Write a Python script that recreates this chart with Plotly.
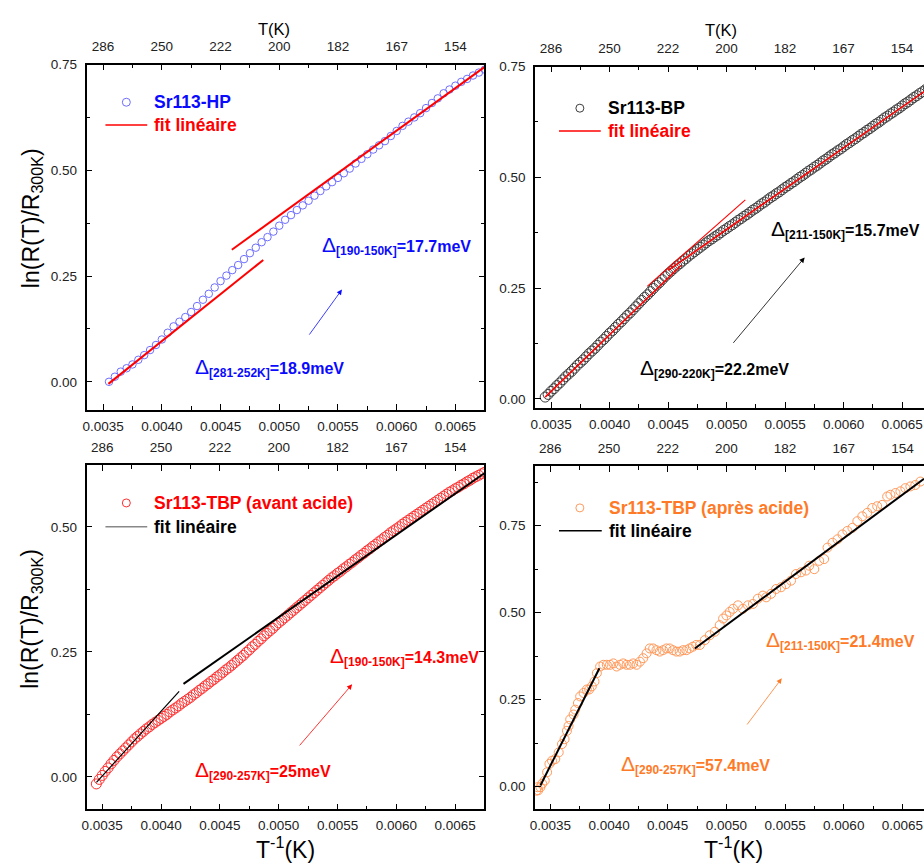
import plotly.graph_objects as go

W, H = 924, 863
FONT = "Liberation Sans, Arial, sans-serif"

# ---------------- data ----------------
# Panel 1 : Sr113-HP
hp_x = [0.00355, 0.00360, 0.00365, 0.00370, 0.00375, 0.00380, 0.00385, 0.00390, 0.00395, 0.00400,
        0.00405, 0.00410, 0.00415, 0.00420, 0.00425, 0.00430, 0.00435, 0.00440, 0.00445, 0.00450,
        0.00455, 0.00460, 0.00465, 0.00470, 0.00475, 0.00480, 0.00485, 0.00490, 0.00495, 0.00500,
        0.00505, 0.00510, 0.00515, 0.00520, 0.00525, 0.00530, 0.00535, 0.00540, 0.00545, 0.00550,
        0.00555, 0.00560, 0.00565, 0.00570, 0.00575, 0.00580, 0.00585, 0.00590, 0.00595, 0.00600,
        0.00605, 0.00610, 0.00615, 0.00620, 0.00625, 0.00630, 0.00635, 0.00640, 0.00645, 0.00650,
        0.00655, 0.00660, 0.00665, 0.00670, 0.00675]
hp_y = [0.000, 0.012, 0.024, 0.032, 0.041, 0.052, 0.063, 0.075, 0.087, 0.100,
        0.116, 0.131, 0.142, 0.153, 0.165, 0.179, 0.194, 0.208, 0.223, 0.238,
        0.251, 0.264, 0.276, 0.290, 0.304, 0.317, 0.330, 0.342, 0.355, 0.369,
        0.383, 0.394, 0.406, 0.417, 0.428, 0.440, 0.451, 0.462, 0.472, 0.482,
        0.493, 0.504, 0.516, 0.527, 0.538, 0.549, 0.559, 0.569, 0.581, 0.593,
        0.605, 0.615, 0.625, 0.635, 0.647, 0.659, 0.670, 0.682, 0.691, 0.700,
        0.709, 0.716, 0.724, 0.731, 0.738]
hp_fit1_x = [0.003545, 0.004864]
hp_fit1_y = [-0.005, 0.288]
hp_fit2_x = [0.004596, 0.006747]
hp_fit2_y = [0.312, 0.744]

# Panel 2 : Sr113-BP  (dense measurement, every 0.000025 K^-1)
bp_x = [0.003450, 0.003475, 0.003500, 0.003525, 0.003550, 0.003575, 0.003600, 0.003625, 0.003650, 0.003675,
        0.003700, 0.003725, 0.003750, 0.003775, 0.003800, 0.003825, 0.003850, 0.003875, 0.003900, 0.003925,
        0.003950, 0.003975, 0.004000, 0.004025, 0.004050, 0.004075, 0.004100, 0.004125, 0.004150, 0.004175,
        0.004200, 0.004225, 0.004250, 0.004275, 0.004300, 0.004325, 0.004350, 0.004375, 0.004400, 0.004425,
        0.004450, 0.004475, 0.004500, 0.004525, 0.004550, 0.004575, 0.004600, 0.004625, 0.004650, 0.004675,
        0.004700, 0.004725, 0.004750, 0.004775, 0.004800, 0.004825, 0.004850, 0.004875, 0.004900, 0.004925,
        0.004950, 0.004975, 0.005000, 0.005025, 0.005050, 0.005075, 0.005100, 0.005125, 0.005150, 0.005175,
        0.005200, 0.005225, 0.005250, 0.005275, 0.005300, 0.005325, 0.005350, 0.005375, 0.005400, 0.005425,
        0.005450, 0.005475, 0.005500, 0.005525, 0.005550, 0.005575, 0.005600, 0.005625, 0.005650, 0.005675,
        0.005700, 0.005725, 0.005750, 0.005775, 0.005800, 0.005825, 0.005850, 0.005875, 0.005900, 0.005925,
        0.005950, 0.005975, 0.006000, 0.006025, 0.006050, 0.006075, 0.006100, 0.006125, 0.006150, 0.006175,
        0.006200, 0.006225, 0.006250, 0.006275, 0.006300, 0.006325, 0.006350, 0.006375, 0.006400, 0.006425,
        0.006450, 0.006475, 0.006500, 0.006525, 0.006550, 0.006575, 0.006600, 0.006625, 0.006650, 0.006675,
        0.006700, 0.006725, 0.006750]
bp_y = [0.004, 0.010, 0.017, 0.023, 0.030, 0.036, 0.043, 0.050, 0.056, 0.062,
        0.069, 0.076, 0.082, 0.088, 0.095, 0.102, 0.108, 0.114, 0.121, 0.128,
        0.134, 0.141, 0.148, 0.154, 0.161, 0.168, 0.174, 0.181, 0.188, 0.194,
        0.201, 0.208, 0.215, 0.222, 0.229, 0.235, 0.242, 0.249, 0.256, 0.262,
        0.269, 0.276, 0.282, 0.288, 0.294, 0.300, 0.305, 0.311, 0.316, 0.322,
        0.327, 0.332, 0.337, 0.342, 0.347, 0.352, 0.357, 0.361, 0.366, 0.370,
        0.375, 0.380, 0.384, 0.389, 0.393, 0.398, 0.403, 0.407, 0.412, 0.416,
        0.421, 0.426, 0.430, 0.435, 0.440, 0.444, 0.449, 0.454, 0.458, 0.463,
        0.467, 0.472, 0.477, 0.481, 0.486, 0.490, 0.495, 0.500, 0.504, 0.509,
        0.514, 0.518, 0.523, 0.527, 0.532, 0.537, 0.541, 0.546, 0.551, 0.555,
        0.560, 0.564, 0.569, 0.574, 0.578, 0.583, 0.587, 0.592, 0.597, 0.601,
        0.606, 0.610, 0.615, 0.620, 0.624, 0.629, 0.634, 0.638, 0.643, 0.647,
        0.652, 0.656, 0.661, 0.666, 0.670, 0.675, 0.680, 0.684, 0.689, 0.693,
        0.698, 0.702, 0.707]
bp_fitA_x = [0.00345, 0.00461]
bp_fitA_y = [0.004, 0.301]
bp_fitB_x = [0.00450, 0.00675]
bp_fitB_y = [0.290, 0.705]
bp_fitC_x = [0.004322, 0.005160]
bp_fitC_y = [0.254, 0.449]

# Panel 3 : Sr113-TBP (avant acide)  (same temperature grid as panel 2)
ta_x = list(bp_x)
ta_y = [-0.014, -0.005, 0.003, 0.011, 0.018, 0.026, 0.033, 0.040, 0.046, 0.052,
        0.058, 0.064, 0.070, 0.076, 0.081, 0.086, 0.091, 0.096, 0.100, 0.105,
        0.109, 0.113, 0.117, 0.121, 0.125, 0.130, 0.134, 0.138, 0.142, 0.147,
        0.151, 0.155, 0.159, 0.164, 0.168, 0.173, 0.177, 0.182, 0.186, 0.191,
        0.195, 0.200, 0.204, 0.209, 0.214, 0.218, 0.223, 0.228, 0.233, 0.238,
        0.243, 0.249, 0.254, 0.260, 0.265, 0.271, 0.276, 0.282, 0.287, 0.292,
        0.297, 0.303, 0.308, 0.313, 0.318, 0.323, 0.328, 0.333, 0.338, 0.343,
        0.348, 0.353, 0.358, 0.363, 0.368, 0.373, 0.378, 0.383, 0.388, 0.393,
        0.398, 0.402, 0.407, 0.411, 0.416, 0.420, 0.425, 0.429, 0.434, 0.438,
        0.443, 0.447, 0.452, 0.456, 0.461, 0.465, 0.470, 0.474, 0.479, 0.483,
        0.488, 0.492, 0.496, 0.500, 0.505, 0.509, 0.513, 0.517, 0.521, 0.525,
        0.529, 0.533, 0.537, 0.541, 0.545, 0.549, 0.553, 0.557, 0.561, 0.565,
        0.569, 0.572, 0.576, 0.579, 0.583, 0.586, 0.590, 0.593, 0.597, 0.600,
        0.603, 0.606, 0.609]
ta_fit1_x = [0.003451, 0.004154]
ta_fit1_y = [-0.011, 0.171]
ta_fit2_x = [0.004191, 0.006747]
ta_fit2_y = [0.186, 0.607]

# Panel 4 : Sr113-TBP (après acide)
tb_x = [0.003380, 0.003390, 0.003396, 0.003415, 0.003430, 0.003452, 0.003472, 0.003492, 0.003514, 0.003542,
        0.003571, 0.003599, 0.003621, 0.003641, 0.003655, 0.003669, 0.003698, 0.003712, 0.003735, 0.003754,
        0.003783, 0.003811, 0.003831, 0.003853, 0.003876, 0.003896, 0.003924, 0.003952, 0.003981, 0.004008,
        0.004037, 0.004065, 0.004093, 0.004121, 0.004150, 0.004178, 0.004206, 0.004235, 0.004263, 0.004291,
        0.004320, 0.004347, 0.004376, 0.004404, 0.004432, 0.004460, 0.004489, 0.004517, 0.004545, 0.004574,
        0.004602, 0.004630, 0.004659, 0.004686, 0.004714, 0.004743, 0.004774, 0.004816, 0.004858, 0.004901,
        0.004943, 0.004972, 0.005000, 0.005028, 0.005057, 0.005099, 0.005141, 0.005184, 0.005226, 0.005268,
        0.005311, 0.005339, 0.005381, 0.005424, 0.005466, 0.005508, 0.005551, 0.005593, 0.005636, 0.005678,
        0.005706, 0.005749, 0.005791, 0.005833, 0.005862, 0.005904, 0.005947, 0.005989, 0.006031, 0.006074,
        0.006116, 0.006158, 0.006201, 0.006243, 0.006285, 0.006328, 0.006370, 0.006398, 0.006441, 0.006483,
        0.006525, 0.006568, 0.006610, 0.006653]
tb_y = [-0.012, -0.002, -0.011, -0.002, 0.008, 0.017, 0.041, 0.065, 0.074, 0.079,
        0.098, 0.122, 0.136, 0.160, 0.174, 0.193, 0.207, 0.221, 0.240, 0.259,
        0.269, 0.279, 0.279, 0.288, 0.302, 0.326, 0.345, 0.350, 0.350, 0.350,
        0.354, 0.345, 0.350, 0.354, 0.350, 0.350, 0.354, 0.350, 0.359, 0.369,
        0.383, 0.397, 0.397, 0.392, 0.388, 0.392, 0.397, 0.397, 0.392, 0.388,
        0.388, 0.392, 0.392, 0.397, 0.402, 0.407, 0.407, 0.421, 0.435, 0.445,
        0.464, 0.483, 0.492, 0.502, 0.511, 0.521, 0.511, 0.521, 0.525, 0.540,
        0.549, 0.544, 0.554, 0.568, 0.573, 0.582, 0.592, 0.611, 0.616, 0.621,
        0.635, 0.625, 0.649, 0.654, 0.687, 0.701, 0.711, 0.725, 0.735, 0.744,
        0.763, 0.777, 0.787, 0.801, 0.806, 0.810, 0.834, 0.839, 0.844, 0.849,
        0.858, 0.863, 0.867, 0.877]
tb_fit1_x = [0.003415, 0.003918]
tb_fit1_y = [0.003, 0.340]
tb_fit2_x = [0.004731, 0.006684]
tb_fit2_y = [0.397, 0.885]

# axis ticks
inv_ticks = [0.0035, 0.0040, 0.0045, 0.0050, 0.0055, 0.0060, 0.0065]
inv_labels = ["0.0035", "0.0040", "0.0045", "0.0050", "0.0055", "0.0060", "0.0065"]
T_labels = ["286", "250", "222", "200", "182", "167", "154"]
minor_x = [0.00325, 0.00375, 0.00425, 0.00475, 0.00525, 0.00575, 0.00625, 0.00675]

BLUE, BLUE_M = "#0a0aff", "#6e6eff"
RED = "#ff0000"
ORANGE, ORANGE_M = "#ff7a26", "#ff9a5c"
GRAY_M = "#3c3c3c"


def px(x):
    return x / W


def py(y):
    return 1 - y / H


panels = [
    dict(x0=82, x1=482, y0=58, y1=406, xr=[0.003359, 0.006747], yr=[-0.066, 0.75], yt=[0, 0.25, 0.5, 0.75], mirror=True),
    dict(x0=533, x1=924, y0=60, y1=404, xr=[0.003364, 0.006687], yr=[-0.020, 0.75], yt=[0, 0.25, 0.5, 0.75], mirror=False),
    dict(x0=82, x1=482, y0=462, y1=809, xr=[0.003367, 0.006748], yr=[-0.065, 0.623], yt=[0, 0.25, 0.5], mirror=True),
    dict(x0=533, x1=924, y0=463, y1=809, xr=[0.003370, 0.006684], yr=[-0.066, 0.921], yt=[0, 0.25, 0.5, 0.75], mirror=False),
]

fig = go.Figure()

tickfont = dict(family=FONT, size=13.5, color="#222")
layout = dict(width=W, height=H, margin=dict(l=0, r=0, t=0, b=0),
              paper_bgcolor="white", plot_bgcolor="white", showlegend=False)

for i, p in enumerate(panels):
    n = i + 1
    xs = "" if n == 1 else str(n)
    top = str(n + 4)
    xd = [px(p["x0"]), min(1.0, px(p["x1"]))]
    yd = [py(p["y1"]), py(p["y0"])]
    common = dict(ticks="inside", ticklen=6, tickwidth=1.3, tickcolor="black",
                  showline=True, linecolor="black", linewidth=1.6, showgrid=False, zeroline=False,
                  tickfont=tickfont)
    layout["xaxis" + xs] = dict(
        domain=xd, range=p["xr"], anchor="y" + xs, side="bottom",
        tickmode="array", tickvals=inv_ticks, ticktext=inv_labels,
        minor=dict(ticks="inside", ticklen=3.5, tickwidth=1.2, tickcolor="black", tickmode="array", tickvals=minor_x),
        ticklabelstandoff=3, **common)
    layout["xaxis" + top] = dict(
        overlaying="x" + xs, anchor="y" + xs, side="top", range=p["xr"],
        tickmode="array", tickvals=inv_ticks, ticktext=T_labels,
        minor=dict(ticks="inside", ticklen=3.5, tickwidth=1.2, tickcolor="black", tickmode="array", tickvals=minor_x),
        ticklabelstandoff=6, **common)
    layout["yaxis" + xs] = dict(
        domain=yd, range=p["yr"], anchor="x" + xs,
        tickmode="array", tickvals=p["yt"], tickformat=".2f",
        minor=dict(ticks="inside", ticklen=3.5, tickwidth=1.2, tickcolor="black", dtick=0.125, tick0=0),
        mirror="ticks" if p["mirror"] else False,
        ticklabelstandoff=5, **common)

fig.update_layout(**layout)


def ax_names(n):
    return ("x" if n == 1 else "x" + str(n)), ("y" if n == 1 else "y" + str(n))


def scatter(x, y, n, color, size, lw=1.0):
    xs, ys = ax_names(n)
    fig.add_trace(go.Scatter(x=x, y=y, xaxis=xs, yaxis=ys, mode="markers", cliponaxis=True,
                             marker=dict(symbol="circle-open", size=size, color=color, line=dict(width=lw, color=color))))


def fitline(x, y, n, color, width):
    xs, ys = ax_names(n)
    fig.add_trace(go.Scatter(x=x, y=y, xaxis=xs, yaxis=ys, mode="lines", cliponaxis=True,
                             line=dict(color=color, width=width)))


# top (temperature) axes need a hidden trace to be drawn
for i, p in enumerate(panels):
    n = i + 1
    _, ys = ax_names(n)
    fig.add_trace(go.Scatter(x=[p["xr"][0]], y=[p["yr"][0]], xaxis="x" + str(n + 4), yaxis=ys,
                             mode="markers", marker=dict(opacity=0), hoverinfo="skip"))

scatter(hp_x, hp_y, 1, BLUE_M, 7.5)
fitline(hp_fit1_x, hp_fit1_y, 1, RED, 2.0)
fitline(hp_fit2_x, hp_fit2_y, 1, RED, 2.0)

scatter(bp_x, bp_y, 2, GRAY_M, 10, 1.0)
fitline(bp_fitA_x, bp_fitA_y, 2, RED, 1.6)
fitline(bp_fitB_x, bp_fitB_y, 2, RED, 1.6)
fitline(bp_fitC_x, bp_fitC_y, 2, RED, 1.1)

scatter(ta_x, ta_y, 3, "#ff3030", 10, 1.0)
fitline(ta_fit1_x, ta_fit1_y, 3, "black", 1.2)
fitline(ta_fit2_x, ta_fit2_y, 3, "black", 2.0)

scatter(tb_x, tb_y, 4, ORANGE_M, 9, 1.0)
fitline(tb_fit1_x, tb_fit1_y, 4, "black", 2.0)
fitline(tb_fit2_x, tb_fit2_y, 4, "black", 2.0)

annotations = []
shapes = []


def ptext(text, x, y, size, color, xanchor="left", angle=0, bold=False):
    t = "<b>" + text + "</b>" if bold else text
    annotations.append(dict(text=t, x=px(x), y=py(y), xref="paper", yref="paper", showarrow=False,
                            xanchor=xanchor, yanchor="middle", textangle=angle,
                            font=dict(family=FONT, size=size, color=color)))


# axis titles
ptext("ln(R(T)/R<sub>300K</sub>)", 27, 213, 23, "black", xanchor="center", angle=-90)
ptext("ln(R(T)/R<sub>300K</sub>)", 27, 617, 23, "black", xanchor="center", angle=-90)
ptext("T<sup>-1</sup>(K)", 282, 848, 23, "black", xanchor="center")
ptext("T<sup>-1</sup>(K)", 732, 848, 23, "black", xanchor="center")
ptext("T(K)", 270, 22, 16.5, "black", xanchor="center")
ptext("T(K)", 720, 23, 16.5, "black", xanchor="center")


def legend(cx, cy, mcolor, name, ncolor, ly, lx0, lx1, lcolor, fcolor, tx):
    shapes.append(dict(type="circle", xref="paper", yref="paper", xsizemode="pixel", ysizemode="pixel",
                       xanchor=px(cx), yanchor=py(cy), x0=-4, x1=4, y0=-4, y1=4,
                       line=dict(color=mcolor, width=1), fillcolor="rgba(0,0,0,0)"))
    shapes.append(dict(type="line", xref="paper", yref="paper", x0=px(lx0), x1=px(lx1), y0=py(ly), y1=py(ly),
                       line=dict(color=lcolor, width=1.6)))
    ptext(name, tx, cy, 17.5, ncolor, bold=True)
    ptext("fit linéaire", tx, ly, 17.5, fcolor, bold=True)


legend(122, 96, BLUE_M, "Sr113-HP", BLUE, 119, 101, 143, RED, RED, 148)
legend(578, 102, GRAY_M, "Sr113-BP", "black", 125, 557, 599, RED, RED, 604)
legend(122, 500, "#ff3030", "Sr113-TBP (avant acide)", RED, 524, 101, 143, "#888888", "black", 148)
legend(578, 505, ORANGE_M, "Sr113-TBP (après acide)", ORANGE, 528, 557, 600, "black", "black", 605)


def delta(sub, val):
    return ('<span style="font-size:21px">Δ</span><sub><span style="font-size:12px"><b>' + sub +
            '</b></span></sub><b>' + val + '</b>')


def dann(n, x, y, sub, val, color):
    xs, ys = ax_names(n)
    annotations.append(dict(text=delta(sub, val), x=x, y=y, xref=xs, yref=ys, showarrow=False,
                            xanchor="left", yanchor="middle",
                            font=dict(family=FONT, size=16, color=color)))


def arrow(n, x0, y0, x1, y1, color):
    xs, ys = ax_names(n)
    annotations.append(dict(text="", x=x1, y=y1, ax=x0, ay=y0, xref=xs, yref=ys, axref=xs, ayref=ys,
                            showarrow=True, arrowhead=2, arrowsize=1.3, arrowwidth=0.8, arrowcolor=color))


dann(1, 0.005348, 0.322, "[190-150K]", "=17.7meV", BLUE)
dann(1, 0.004264, 0.034, "[281-252K]", "=18.9meV", BLUE)
arrow(1, 0.005247, 0.108, 0.005534, 0.218, BLUE)

dann(2, 0.005360, 0.383, "[211-150K]", "=15.7meV", "black")
dann(2, 0.004239, 0.068, "[290-220K]", "=22.2meV", "black")
arrow(2, 0.005047, 0.123, 0.005667, 0.319, "black")

dann(3, 0.005421, 0.241, "[190-150K]", "=14.3meV", RED)
dann(3, 0.004272, 0.013, "[290-257K]", "=25meV", RED)
arrow(3, 0.005167, 0.060, 0.005624, 0.185, RED)

dann(4, 0.005319, 0.419, "[211-150K]", "=21.4meV", ORANGE)
dann(4, 0.004082, 0.062, "[290-257K]", "=57.4meV", ORANGE)
arrow(4, 0.005167, 0.174, 0.005472, 0.311, ORANGE)

fig.update_layout(annotations=annotations, shapes=shapes)
fig.write_html("out.html", config={"displayModeBar": False},
               post_script="document.body.style.margin='0px';document.body.style.overflow='hidden';")
